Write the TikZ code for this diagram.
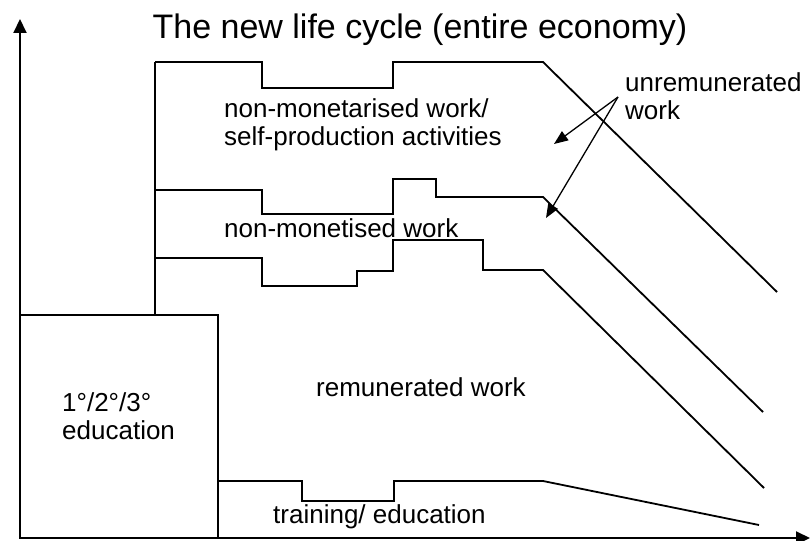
\documentclass[tikz,border=0pt]{standalone}
\usepackage{fontspec}
\setmainfont{Liberation Sans}
\usepackage{tikz}
\usetikzlibrary{arrows.meta,positioning}

\begin{document}
\begin{tikzpicture}[
    x = 1pt, y = -1pt,
    axis/.style={
        line width = 2pt, %axes
        -{Triangle[length=14pt,width=13pt]}
      },
    stepline/.style={
        line width = 1.8pt, %border
        line join = miter
      },
    pointer/.style={
        line width = 1.3pt,
        -{Triangle[length=14pt,width=11pt]}
      },
    areatext/.style={
        inner sep = 0pt,
        anchor = west,
        align = left,
        font = \fontsize{26}{28}\selectfont %font
      },
    titletext/.style={
        inner sep = 0pt,
        font = \fontsize{34}{38}\selectfont
      }]
  \useasboundingbox (0,0) rectangle (810,540);
  % axes
  \coordinate (origin) at (20,538);
  \coordinate (ytop) at (20,19);
  \coordinate (xend) at (810,538);
  \draw [axis] (origin) -- (ytop);
  \draw [axis] (origin) -- (xend);
  % school years
  \draw [stepline] (20,315) rectangle (218,538);
  \draw [stepline] (155,315) -- (155,62);
  % the four layers
  \draw [stepline] (155,62) -- (262,62) -- (262,88) -- (393,88) -- (393,62)
    -- (543,62) -- (777,292);
  \draw [stepline] (155,190) -- (262,190) -- (262,214) -- (393,214) -- (393,179)
    -- (436,179) -- (436,197) -- (543,197) -- (763,412);
  \draw [stepline] (155,258) -- (262,258) -- (262,286) -- (357,286) -- (357,271)
    -- (393,271) -- (393,240) -- (483,240) -- (483,270) -- (543,270) -- (764,488);
  \draw [stepline] (218,481) -- (302,481) -- (302,501) -- (394,501) -- (394,481)
    -- (543,481) -- (759,525);
  % texts
  \node [titletext] (title) at (420,30) {The new life cycle (entire economy)};
  \node [areatext] (selfprod) at (224,125) {non-monetarised work/\\self-production activities};
  \node [areatext] (nonmoney) at (224,228) {non-monetised work};
  \node [areatext] (paid) at (316,387) {remunerated work};
  \node [areatext] (training) at (273,517) {training/ education};
  \node [areatext] (school) at (62,416) {1°/2°/3°\\education};
  \node [areatext] (unpaid) at (625,96) {unremunerated\\work};
  % arrows from the unremunerated label
  \coordinate (unpaidfoot) at (618,97);
  \coordinate (selfprodtip) at (554,144);
  \coordinate (nonmoneytip) at (546,218);
  \draw [pointer] (unpaidfoot) -- (selfprodtip);
  \draw [pointer] (unpaidfoot) -- (nonmoneytip);
\end{tikzpicture}
\end{document}
